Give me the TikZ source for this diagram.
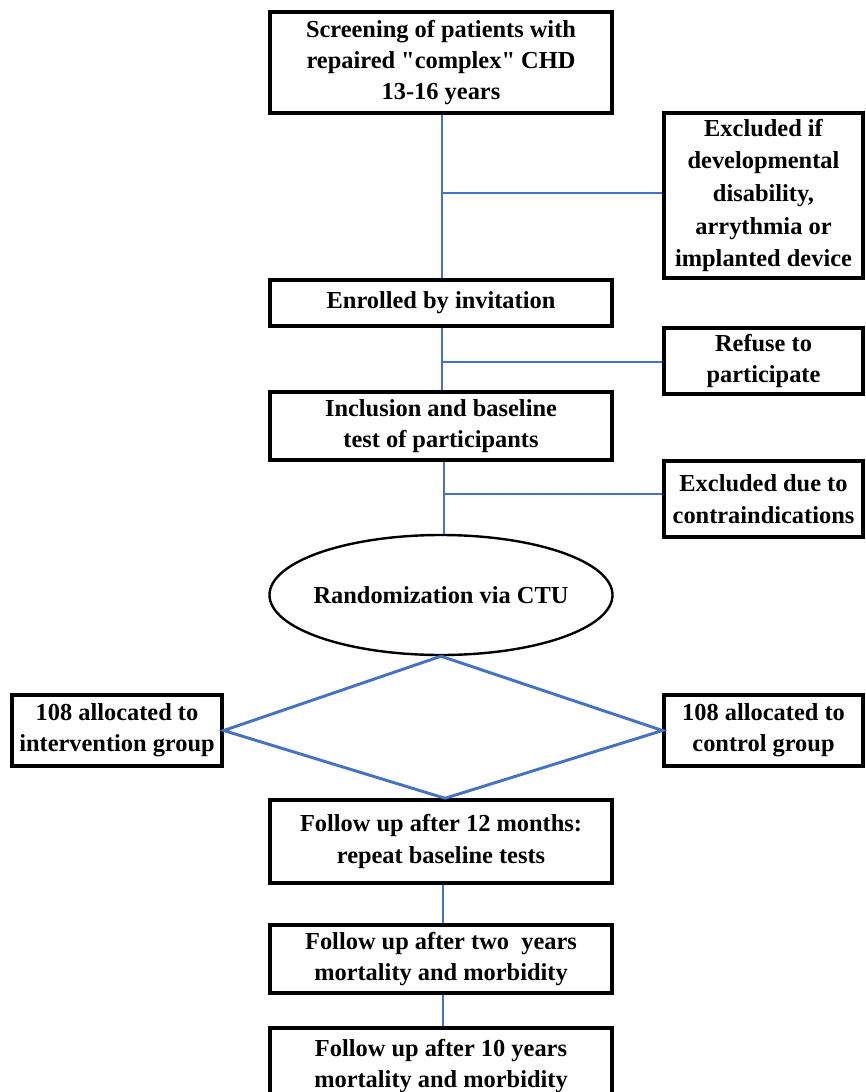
\documentclass[tikz,border=0pt]{standalone}
\usepackage{fontspec}
\setmainfont{Liberation Serif}[Ligatures=TeXOff]
\usetikzlibrary{shapes.geometric}
\definecolor{lnblue}{RGB}{68,114,196}
\begin{document}
\begin{tikzpicture}[x=0.75pt,y=-0.75pt,
  box/.style={draw=black, line width=2.6pt, fill=white, inner sep=0pt, align=center,
    font=\fontsize{18.3}{23.5}\selectfont\bfseries},
  sidebox/.style={box, line width=2.3pt},
  conn/.style={draw=lnblue, line width=2.2pt}]
\useasboundingbox (0,0) rectangle (865,1092);
% main column
\node[box, minimum width={342*0.75pt}, minimum height={101*0.75pt}] (b1) at (441,62.5)
  {Screening of patients with\\ repaired "complex" CHD\\ 13-16 years};
\node[box, minimum width={342*0.75pt}, minimum height={46*0.75pt}] (b2) at (441,303)
  {Enrolled by invitation};
\node[box, minimum width={342*0.75pt}, minimum height={68*0.75pt}] (b3) at (441,426)
  {Inclusion and baseline\\ test of participants};
\node[draw=black, line width=1.8pt, ellipse, inner sep=0pt, minimum width={343*0.75pt},
  minimum height={120*0.75pt}, font=\fontsize{18.3}{23.5}\selectfont\bfseries] (rand) at (441,595)
  {\makebox[0pt]{Randomization via CTU}};
\node[box, minimum width={342*0.75pt}, minimum height={83*0.75pt}] (fu1) at (441,841.5)
  {Follow up after 12 months:\\ repeat baseline tests};
\node[box, minimum width={342*0.75pt}, minimum height={68*0.75pt}] (fu2) at (441,959)
  {Follow up after two\ \ years\\ mortality and morbidity};
\node[box, minimum width={342*0.75pt}, minimum height={76*0.75pt}] (fu3) at (441,1066)
  {Follow up after 10 years\\ mortality and morbidity};
% side boxes
\node[sidebox, minimum width={199*0.75pt}, minimum height={165*0.75pt},
  font=\fontsize{18.3}{24.4}\selectfont\bfseries] (ex1) at (763.5,195.5)
  {Excluded if\\ developmental\\ disability,\\ arrythmia or\\ implanted device};
\node[sidebox, minimum width={199*0.75pt}, minimum height={66*0.75pt}] (ex2) at (763.5,361)
  {Refuse to\\ participate};
\node[sidebox, minimum width={199*0.75pt}, minimum height={76*0.75pt}] (ex3) at (763.5,499)
  {Excluded due to\\ contraindications};
\node[box, minimum width={210*0.75pt}, minimum height={71*0.75pt}] (lg) at (117,730.5)
  {108 allocated to\\ intervention group};
\node[sidebox, minimum width={199*0.75pt}, minimum height={71*0.75pt}] (rg) at (763.5,730.5)
  {108 allocated to\\ control group};
% connectors
\coordinate (j1) at (442,193);
\coordinate (j2) at (442,362);
\coordinate (j3) at (444,494);
\draw[conn] ([xshift=0.75pt]b1.south) -- ([xshift=0.75pt]b2.north);
\draw[conn] (j1) -- (j1 -| ex1.west);
\draw[conn] ([xshift=0.75pt]b2.south) -- ([xshift=0.75pt]b3.north);
\draw[conn] (j2) -- (j2 -| ex2.west);
\draw[conn] ([xshift=2.25pt]b3.south) -- ([xshift=2.25pt]rand.north);
\draw[conn] (j3) -- (j3 -| ex3.west);
\draw[conn] (rand.south) -- (lg.east) -- ([xshift=3pt]fu1.north);
\draw[conn] (rand.south) -- (rg.west) -- ([xshift=3pt]fu1.north);
\draw[conn] ([xshift=1.5pt]fu1.south) -- ([xshift=1.5pt]fu2.north);
\draw[conn] ([xshift=1.5pt]fu2.south) -- ([xshift=1.5pt]fu3.north);
\end{tikzpicture}
\end{document}
